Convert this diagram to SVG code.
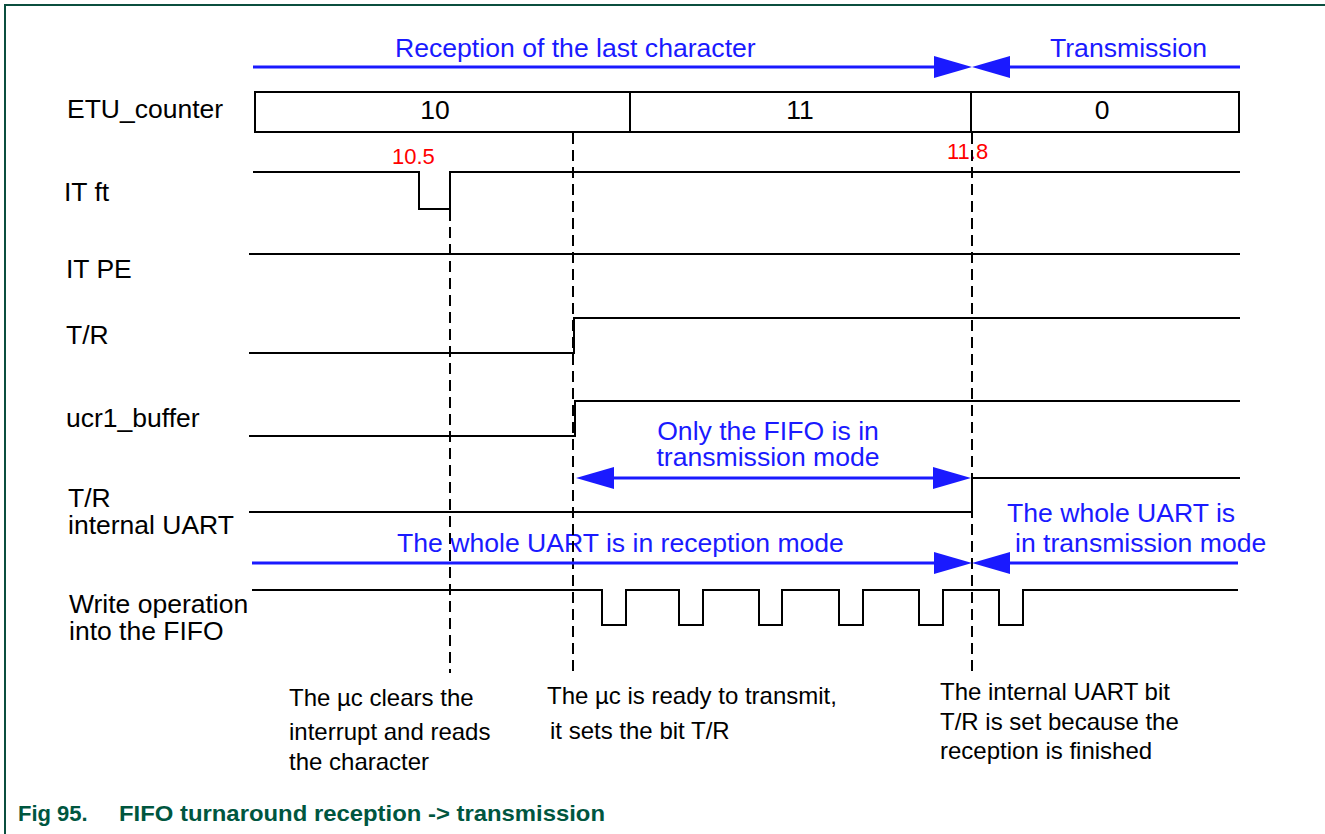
<svg xmlns="http://www.w3.org/2000/svg" width="1325" height="834" viewBox="0 0 1325 834">
<style>
text{font-family:"Liberation Sans",Arial,Helvetica,sans-serif}
.lbl{font-size:26.5px;fill:#000}
.blue{font-size:26.6px;fill:#1a1aff}
.red{font-size:22px;fill:#ff0000}
.note{font-size:24px;fill:#000}
.cap{font-size:22px;font-weight:bold;fill:#00563f}
.sig{fill:none;stroke:#000;stroke-width:2}
.dash{fill:none;stroke:#000;stroke-width:2;stroke-dasharray:11 6}
.barr{fill:none;stroke:#1a1aff;stroke-width:3}
</style>
<defs>
<marker id="ah" markerUnits="userSpaceOnUse" markerWidth="38" markerHeight="22" viewBox="0 0 38 22" refX="0" refY="11" orient="auto-start-reverse">
<path d="M0,0 L38,11 L0,22 z" fill="#1a1aff"/>
</marker>
</defs>
<rect width="1325" height="834" fill="#fff"/>
<path d="M5,834 V5 H1325" fill="none" stroke="#0b4f3f" stroke-width="2"/>

<g id="phase-top">
<text class="blue" x="395" y="57">Reception of the last character</text>
<text class="blue" x="1050" y="57">Transmission</text>
</g>

<g id="etu">
<text class="lbl" x="67" y="118">ETU_counter</text>
<rect x="255" y="92" width="984" height="40" class="sig"/>
<line x1="630" y1="92" x2="630" y2="132" class="sig"/>
<line x1="971" y1="92" x2="971" y2="132" class="sig"/>
<text class="lbl" x="435" y="119" text-anchor="middle">10</text>
<text class="lbl" x="800" y="119" text-anchor="middle">11</text>
<text class="lbl" x="1102" y="119" text-anchor="middle">0</text>
<text class="red" x="392" y="164">10.5</text>
<text class="red" x="947" y="159">11.8</text>
</g>

<g id="itft">
<text class="lbl" x="64" y="201">IT ft</text>
<path class="sig" d="M253,172 H419 V209 H450 V172 H1240"/>
</g>

<g id="itpe">
<text class="lbl" x="66" y="278">IT PE</text>
<path class="sig" d="M249,254 H1240"/>
</g>

<g id="tr">
<text class="lbl" x="66" y="344">T/R</text>
<path class="sig" d="M249,353 H574 V318 H1240"/>
</g>

<g id="ucr1">
<text class="lbl" x="66" y="427">ucr1_buffer</text>
<path class="sig" d="M249,436 H575 V401 H1240"/>
</g>

<g id="truart">
<text class="lbl" x="68" y="507">T/R</text>
<text class="lbl" x="68" y="534">internal UART</text>
<path class="sig" d="M249,512 H972 V478 H1240"/>
</g>

<g id="write">
<text class="lbl" x="69" y="613">Write operation</text>
<text class="lbl" x="69" y="640">into the FIFO</text>
<path class="sig" d="M252,590 H602 V625 H626 V590 H679 V625 H703 V590 H759 V625 H782 V590 H839 V625 H863 V590 H919 V625 H943 V590 H999 V625 H1023 V590 H1238"/>
</g>

<g id="fifo-mode">
<text class="blue" x="768" y="440" text-anchor="middle">Only the FIFO is in</text>
<text class="blue" x="768" y="466" text-anchor="middle">transmission mode</text>
</g>

<g id="uart-mode">
<text class="blue" x="397" y="552">The whole UART is in reception mode</text>
<text class="blue" x="1007" y="522">The whole UART is</text>
<text class="blue" x="1015" y="552">in transmission mode</text>
</g>

<g id="notes">
<text class="note" x="289" y="706">The µc clears the</text>
<text class="note" x="289" y="740">interrupt and reads</text>
<text class="note" x="289" y="770">the character</text>
<text class="note" x="547" y="704">The µc is ready to transmit,</text>
<text class="note" x="550" y="739">it sets the bit T/R</text>
<text class="note" x="940" y="700">The internal UART bit</text>
<text class="note" x="940" y="730">T/R is set because the</text>
<text class="note" x="940" y="759">reception is finished</text>
</g>

<g id="connectors">
<line class="dash" x1="450" y1="210" x2="450" y2="673"/>
<line class="dash" x1="573" y1="133" x2="573" y2="673"/>
<line class="dash" x1="972" y1="133" x2="972" y2="673"/>
<line class="barr" x1="253" y1="67" x2="934" y2="67" marker-end="url(#ah)"/>
<line class="barr" x1="1240" y1="67" x2="1010" y2="67" marker-end="url(#ah)"/>
<line class="barr" x1="614" y1="478" x2="933" y2="478" marker-start="url(#ah)" marker-end="url(#ah)"/>
<line class="barr" x1="252" y1="563" x2="934" y2="563" marker-end="url(#ah)"/>
<line class="barr" x1="1238" y1="563" x2="1010" y2="563" marker-end="url(#ah)"/>
</g>

<g id="caption">
<text class="cap" x="18" y="821">Fig 95.</text>
<text class="cap" x="119" y="821" textLength="486" lengthAdjust="spacingAndGlyphs">FIFO turnaround reception -&gt; transmission</text>
</g>
</svg>
